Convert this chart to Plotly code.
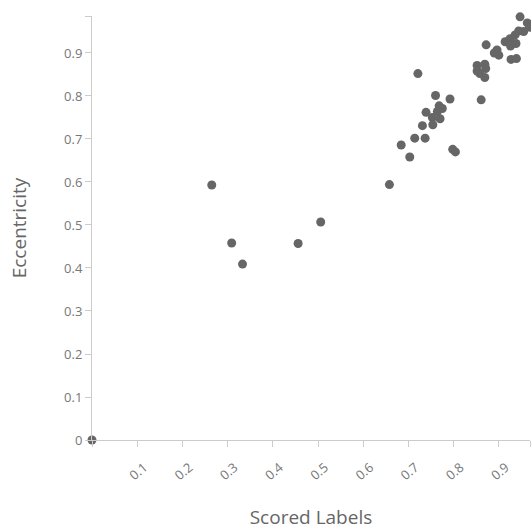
import plotly.graph_objects as go

# Scored Labels (x) vs Eccentricity (y)
scored_labels = [
    0.000, 0.265, 0.309, 0.333, 0.456, 0.506, 0.658, 0.684, 0.703, 0.714,
    0.737, 0.798, 0.804, 0.721, 0.760, 0.792, 0.768, 0.775, 0.764, 0.739,
    0.753, 0.770, 0.731, 0.754, 0.861, 0.852, 0.869, 0.852, 0.871, 0.858,
    0.869, 0.872, 0.896, 0.900, 0.890, 0.927, 0.939, 0.914, 0.925, 0.938,
    0.936, 0.944, 0.955, 0.947, 0.963, 0.968, 0.926,
]
eccentricity = [
    0.000, 0.593, 0.458, 0.409, 0.457, 0.507, 0.594, 0.686, 0.658, 0.702,
    0.702, 0.676, 0.670, 0.852, 0.801, 0.793, 0.777, 0.771, 0.764, 0.762,
    0.750, 0.747, 0.731, 0.733, 0.791, 0.871, 0.874, 0.858, 0.864, 0.852,
    0.843, 0.919, 0.907, 0.895, 0.900, 0.885, 0.887, 0.926, 0.933, 0.922,
    0.942, 0.951, 0.950, 0.984, 0.970, 0.960, 0.916,
]

x_ticks = [0.1, 0.2, 0.3, 0.4, 0.5, 0.6, 0.7, 0.8, 0.9]
x_tick_labels = ["0.1", "0.2", "0.3", "0.4", "0.5", "0.6", "0.7", "0.8", "0.9"]
y_ticks = [0, 0.1, 0.2, 0.3, 0.4, 0.5, 0.6, 0.7, 0.8, 0.9]
y_tick_labels = ["0", "0.1", "0.2", "0.3", "0.4", "0.5", "0.6", "0.7", "0.8", "0.9"]
x_max = 0.969
y_max = 0.986

FONT = "Segoe UI, Open Sans, sans-serif"
AXIS_COLOR = "#cccccc"
TEXT_COLOR = "#777777"

fig = go.Figure(
    go.Scatter(
        x=scored_labels,
        y=eccentricity,
        mode="markers",
        marker=dict(size=9, color="#666666", line=dict(width=0)),
        cliponaxis=False,
        hoverinfo="x+y",
    )
)

fig.update_layout(
    width=531,
    height=530,
    margin=dict(l=92, r=1, t=16, b=90),
    paper_bgcolor="white",
    plot_bgcolor="white",
    showlegend=False,
    font=dict(family=FONT, color=TEXT_COLOR, size=13),
)

fig.update_xaxes(
    range=[0, x_max],
    automargin=False,
    tickmode="array",
    tickvals=[0] + x_ticks + [x_max],
    ticktext=[""] + x_tick_labels + [""],
    tickangle=-40,
    ticklabelshift=7,
    ticklabelstandoff=8,
    ticks="outside",
    ticklen=6,
    tickcolor=AXIS_COLOR,
    showline=True,
    linecolor=AXIS_COLOR,
    linewidth=1,
    showgrid=False,
    zeroline=False,
    tickfont=dict(size=13, color=TEXT_COLOR),
    title=dict(text="Scored Labels", font=dict(size=19, color="#666666"), standoff=36),
)
fig.update_yaxes(
    range=[0, y_max],
    automargin=False,
    tickmode="array",
    tickvals=y_ticks + [y_max],
    ticktext=y_tick_labels + [""],
    ticks="outside",
    ticklen=6,
    tickcolor=AXIS_COLOR,
    showline=True,
    linecolor=AXIS_COLOR,
    linewidth=1,
    showgrid=False,
    zeroline=False,
    tickfont=dict(size=13, color=TEXT_COLOR),
    title=dict(text="Eccentricity", font=dict(size=19, color="#666666"), standoff=32),
)

fig.write_html(
    "out.html",
    config={"displayModeBar": False},
    post_script="document.body.style.margin='0';document.body.style.overflow='hidden';",
)
